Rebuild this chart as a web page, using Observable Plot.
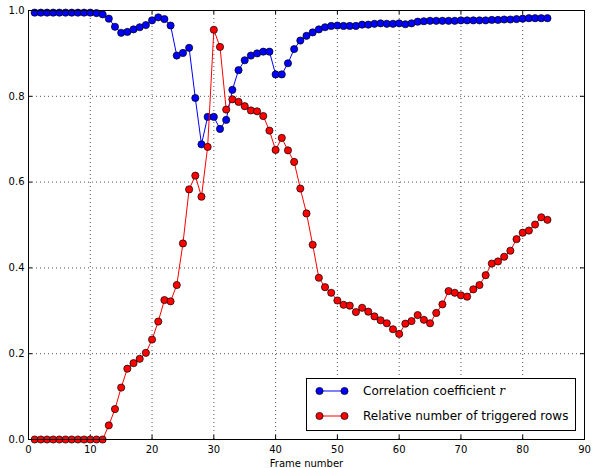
<!DOCTYPE html>
<html><head><meta charset="utf-8">
<script src="https://cdn.jsdelivr.net/npm/d3@7"></script>
<script src="https://cdn.jsdelivr.net/npm/@observablehq/plot@0.6"></script>
<style>
body{margin:0;background:#fff;font-family:"DejaVu Sans",sans-serif}
#wrap{position:relative;width:592px;height:468px}
#legend{position:absolute;left:306px;top:378px;width:268px;height:51px;border:1px solid #000;background:#fff;font-size:12px;color:#000}
#legend .row{position:absolute;left:0;height:20px;display:flex;align-items:center}
#legend svg{display:block}
#legend span{margin-left:14px;white-space:nowrap}
#legend i{font-family:"DejaVu Serif",serif}
</style>
</head><body><div id="wrap"></div>
<script>
const frames = [1,2,3,4,5,6,7,8,9,10,11,12,13,14,15,16,17,18,19,20,21,22,23,24,25,26,27,28,29,30,31,32,33,34,35,36,37,38,39,40,41,42,43,44,45,46,47,48,49,50,51,52,53,54,55,56,57,58,59,60,61,62,63,64,65,66,67,68,69,70,71,72,73,74,75,76,77,78,79,80,81,82,83,84];
const corr = [0.995,0.995,0.995,0.995,0.995,0.995,0.995,0.995,0.995,0.995,0.994,0.991,0.981,0.962,0.948,0.950,0.956,0.961,0.966,0.977,
  0.984,0.980,0.965,0.895,0.901,0.913,0.796,0.688,0.752,0.752,0.724,0.745,0.815,0.861,0.884,0.895,0.900,0.904,0.904,0.851,
  0.851,0.877,0.910,0.930,0.941,0.949,0.956,0.961,0.964,0.965,0.964,0.964,0.964,0.967,0.967,0.969,0.970,0.969,0.969,0.970,
  0.968,0.970,0.974,0.975,0.976,0.976,0.976,0.976,0.976,0.977,0.977,0.977,0.977,0.977,0.978,0.978,0.979,0.979,0.980,0.981,
  0.982,0.982,0.982,0.982];
const trig = [0,0,0,0,0,0,0,0,0,0,0,0,0.033,0.071,0.121,0.165,0.178,0.188,0.202,0.233,
  0.275,0.325,0.322,0.360,0.457,0.583,0.615,0.566,0.682,0.955,0.915,0.769,0.793,0.787,0.777,0.767,0.765,0.754,0.720,0.675,
  0.703,0.674,0.647,0.585,0.527,0.454,0.377,0.355,0.342,0.324,0.314,0.312,0.297,0.307,0.298,0.287,0.278,0.271,0.257,0.246,
  0.270,0.276,0.290,0.279,0.271,0.295,0.315,0.346,0.342,0.336,0.333,0.350,0.360,0.383,0.410,0.415,0.426,0.440,0.467,0.482,
  0.487,0.501,0.518,0.512];
const xTicks = [0,10,20,30,40,50,60,70,80,90];
const yTicks = [0,0.2,0.4,0.6,0.8,1.0];
const yTickLabels = ["0.0","0.2","0.4","0.6","0.8","1.0"];
const seriesNames = ["Correlation coefficient", "Relative number of triggered rows"];
const seriesColors = ["#0000ff", "#ff0000"];

const W = 592, H = 468, mL = 28, mR = 8, mT = 10, mB = 29;
const innerW = W - mL - mR, innerH = H - mT - mB;
const corrData = frames.map((f, i) => ({f, v: corr[i]}));
const trigData = frames.map((f, i) => ({f, v: trig[i]}));
const gridStyle = {stroke: "#000", strokeOpacity: 0.85, strokeWidth: 0.8, strokeDasharray: "1,3"};

const chart = Plot.plot({
  width: W, height: H,
  marginLeft: mL, marginRight: mR, marginTop: mT, marginBottom: mB,
  style: {fontFamily: "DejaVu Sans, sans-serif", fontSize: "10px", background: "#fff", color: "#000"},
  x: {domain: [0, 90]},
  y: {domain: [0, 1]},
  marks: [
    Plot.gridX(xTicks, gridStyle),
    Plot.gridY(yTicks, gridStyle),
    Plot.axisX(xTicks, {tickSize: 0, tickPadding: 6, tickFormat: d => String(d), label: null, fontSize: 10}),
    Plot.axisY(yTicks, {tickSize: 0, tickPadding: 4, tickFormat: d => yTickLabels[yTicks.indexOf(d)], label: null, fontSize: 10}),
    Plot.tickX(xTicks, {x: d => d, insetTop: innerH - 4, stroke: "#000"}),
    Plot.tickX(xTicks, {x: d => d, insetBottom: innerH - 4, stroke: "#000"}),
    Plot.tickY(yTicks, {y: d => d, insetRight: innerW - 4, stroke: "#000"}),
    Plot.tickY(yTicks, {y: d => d, insetLeft: innerW - 4, stroke: "#000"}),
    Plot.line(corrData, {x: "f", y: "v", stroke: seriesColors[0], strokeWidth: 1}),
    Plot.dot(corrData, {x: "f", y: "v", r: 3.6, fill: seriesColors[0], stroke: "#000", strokeWidth: 0.7}),
    Plot.line(trigData, {x: "f", y: "v", stroke: seriesColors[1], strokeWidth: 1}),
    Plot.dot(trigData, {x: "f", y: "v", r: 3.6, fill: seriesColors[1], stroke: "#000", strokeWidth: 0.7}),
    Plot.frame({stroke: "#000", strokeWidth: 1}),
    Plot.text(["Frame number"], {frameAnchor: "bottom", dy: 20.5, lineAnchor: "top", fontSize: 10, fill: "#000"})
  ]
});
const wrap = document.getElementById("wrap");
wrap.appendChild(chart);

const legend = document.createElement("div");
legend.id = "legend";
const sample = c => `<svg width="34" height="12" style="margin-left:8px"><line x1="4.5" y1="6" x2="29.5" y2="6" stroke="${c}" stroke-width="1"/><circle cx="4.5" cy="6" r="3.6" fill="${c}" stroke="#000" stroke-width="0.7"/><circle cx="29.5" cy="6" r="3.6" fill="${c}" stroke="#000" stroke-width="0.7"/></svg>`;
legend.innerHTML =
  `<div class="row" style="top:2px">${sample(seriesColors[0])}<span>${seriesNames[0]} <i>r</i></span></div>` +
  `<div class="row" style="top:27px">${sample(seriesColors[1])}<span>${seriesNames[1]}</span></div>`;
wrap.appendChild(legend);
</script>
</body></html>
